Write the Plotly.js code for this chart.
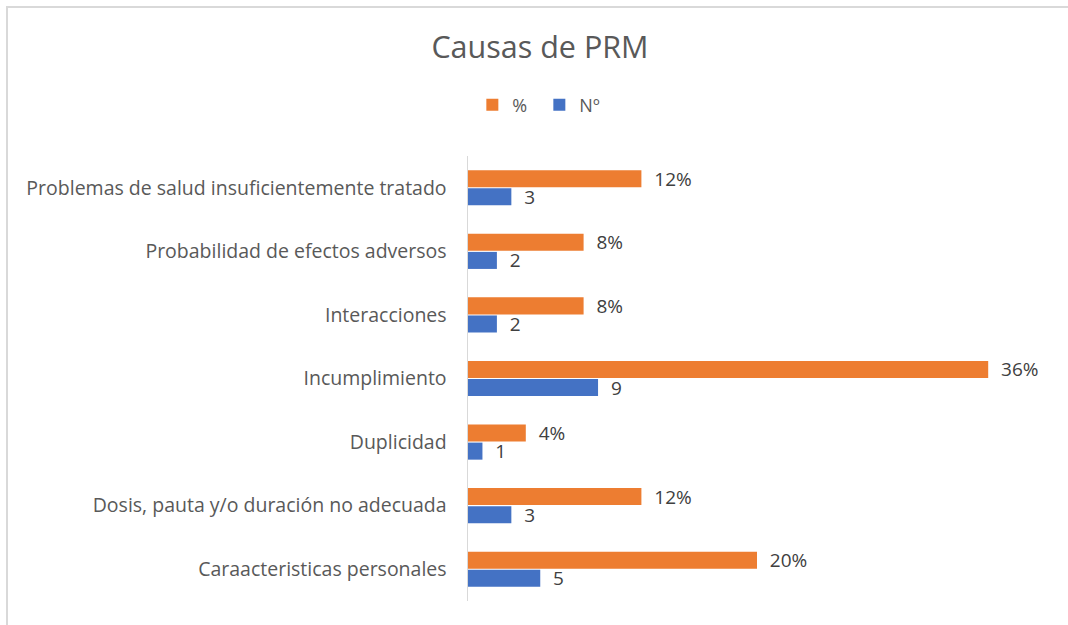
<!DOCTYPE html>
<html>
<head>
<meta charset="utf-8">
<script src="https://cdn.plot.ly/plotly-3.0.1.min.js"></script>
<style>
html,body{margin:0;padding:0;background:#fff;}
#wrap{position:relative;width:1068px;height:625px;overflow:hidden;}
#frame{position:absolute;left:6px;top:6px;width:1100px;height:700px;border-left:2px solid #d9d9d9;border-top:2px solid #d9d9d9;pointer-events:none;z-index:5;}
#chart{position:absolute;left:0;top:0;width:1068px;height:625px;}
</style>
</head>
<body>
<div id="wrap"><div id="chart"></div><div id="frame"></div></div>
<script>
// categories listed bottom to top
const categories = [
  "Caraacteristicas personales",
  "Dosis, pauta y/o duración no adecuada",
  "Duplicidad",
  "Incumplimiento",
  "Interacciones",
  "Probabilidad de efectos adversos",
  "Problemas de salud insuficientemente tratado"
];
const pctValues = [20, 12, 4, 36, 8, 8, 12];
const numValues = [5, 3, 1, 9, 2, 2, 3];
const pctLabels = pctValues.map(v => "  " + v + "%");
const numLabels = numValues.map(v => "  " + v);

const font = "'Open Sans', 'Noto Sans', 'Liberation Sans', sans-serif";

const traces = [
  {
    type: "bar", orientation: "h", name: "Nº",
    y: categories, x: numValues,
    text: numLabels, textposition: "outside", cliponaxis: false,
    constraintext: "none",
    textfont: {family: font, size: 19, color: "#404040"},
    marker: {color: "#4472C4"},
    hoverinfo: "none"
  },
  {
    type: "bar", orientation: "h", name: "%",
    y: categories, x: pctValues,
    text: pctLabels, textposition: "outside", cliponaxis: false,
    constraintext: "none",
    textfont: {family: font, size: 19, color: "#404040"},
    marker: {color: "#ED7D31"},
    hoverinfo: "none"
  }
];

const layout = {
  width: 1068, height: 625,
  paper_bgcolor: "#fff", plot_bgcolor: "#fff",
  margin: {l: 468, r: 22, t: 156, b: 24},
  font: {family: font, color: "#595959"},
  title: {
    text: "Causas de PRM",
    font: {family: font, size: 30.5, color: "#595959"},
    x: 0.5056, xref: "container", xanchor: "center",
    y: 0.925, yref: "container", yanchor: "middle"
  },
  barmode: "group",
  bargap: 0.43,
  bargroupgap: 0.06,
  showlegend: true,
  legend: {
    orientation: "h", traceorder: "reversed",
    x: 0.505, xref: "container", xanchor: "center",
    y: 0.832, yref: "container", yanchor: "middle",
    font: {family: font, size: 18, color: "#595959"},
    itemwidth: 30, entrywidth: 22, entrywidthmode: "pixels", tracegroupgap: 0
  },
  xaxis: {
    range: [0, 40], visible: false, fixedrange: true
  },
  yaxis: {
    type: "category",
    showline: true, linecolor: "#d9d9d9", linewidth: 1.5,
    showgrid: false, zeroline: false,
    ticks: "", ticklabelstandoff: 16,
    tickfont: {family: font, size: 19.5, color: "#595959"},
    fixedrange: true
  }
};

Plotly.newPlot("chart", traces, layout, {displayModeBar: false, staticPlot: true});
</script>
</body>
</html>
